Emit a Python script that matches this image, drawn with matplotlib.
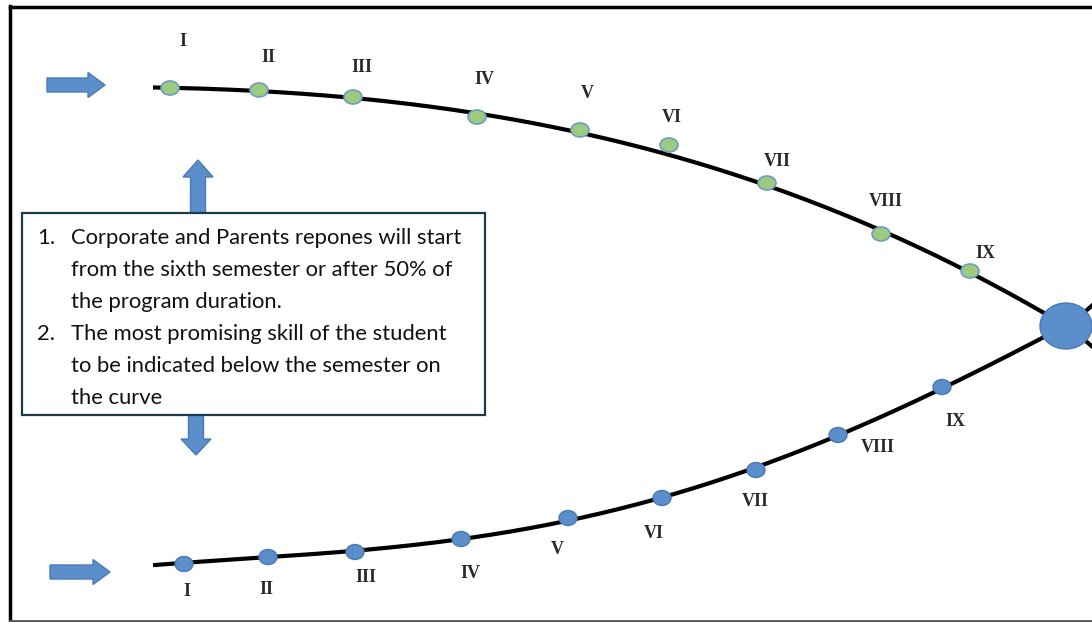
import numpy as np
import matplotlib
matplotlib.use("Agg")
import matplotlib.pyplot as plt
from matplotlib.patches import FancyArrow, Ellipse, Rectangle

# 学期标签
semesters = ["I", "II", "III", "IV", "V", "VI", "VII", "VIII", "IX"]

# 上方曲线 (绿色点) 的位置, 像素坐标
upper_x = [170, 259, 353, 477, 580, 669, 767, 881, 970]
upper_y = [88, 90, 97, 117, 130, 145, 183, 234, 271]
upper_lx = [183, 268, 362, 484, 587, 672, 777, 886, 985]
upper_ly = [42, 58, 68, 80, 94, 118, 161, 202, 254]

# 下方曲线 (蓝色点)
lower_x = [184, 268, 355, 461, 568, 662, 756, 838, 942]
lower_y = [564, 557, 552, 539, 518, 498, 470, 435, 387]
lower_lx = [187, 266, 366, 470, 557, 654, 755, 878, 955]
lower_ly = [591, 590, 578, 574, 550, 534, 501, 448, 421]

# 曲线的控制点
upper_curve_x = [153, 259, 353, 477, 580, 767, 881, 970, 1066]
upper_curve_y = [88, 90, 97, 117, 131, 183, 234, 271, 326]
lower_curve_x = [153, 268, 355, 461, 568, 662, 756, 838, 942, 1066]
lower_curve_y = [565, 557, 552, 539, 518, 498, 470, 435, 387, 326]

notes = [
    ("1.", ["Corporate and Parents repones will start",
            "from the sixth semester or after 50% of",
            "the program duration."]),
    ("2.", ["The most promising skill of the student",
            "to be indicated below the semester on",
            "the curve"]),
]

blue = "#5b8fcb"
blue_edge = "#4a7ab5"
green = "#9ccb7f"

fig = plt.figure(figsize=(10.92, 6.22), dpi=100)
ax = fig.add_axes([0, 0, 1, 1])
ax.set_xlim(0, 1092)
ax.set_ylim(622, 0)
ax.axis("off")

# 外框
ax.plot([10, 10], [6, 620], color="black", lw=2.5)
ax.plot([10, 1092], [6.5, 6.5], color="black", lw=2.5)
ax.plot([10, 1092], [620.5, 620.5], color="#555555", lw=2)


# 平滑曲线
def smooth(xs, ys, deg=3):
    c = np.polyfit(xs, ys, deg)
    xx = np.linspace(xs[0], xs[-1], 300)
    return xx, np.polyval(c, xx)


ux, uy = smooth(upper_curve_x, upper_curve_y, 4)
lx, ly = smooth(lower_curve_x, lower_curve_y, 4)
ax.plot(ux, uy, color="black", lw=3, zorder=2, solid_capstyle="butt")
ax.plot(lx, ly, color="black", lw=3, zorder=2, solid_capstyle="butt")
ax.plot([1080, 1095], [316, 303], color="black", lw=3, zorder=2)
ax.plot([1080, 1095], [336, 349], color="black", lw=3, zorder=2)

# 学期点
for x, y in zip(upper_x, upper_y):
    ax.add_patch(Ellipse((x, y), 18, 14, facecolor=green, edgecolor="#6d9cc0", lw=1.2, zorder=3))
for x, y in zip(lower_x, lower_y):
    ax.add_patch(Ellipse((x, y), 18, 15, facecolor=blue, edgecolor=blue_edge, lw=1.0, zorder=3))

# 大圆
ax.add_patch(Ellipse((1066, 326), 52, 46, facecolor=blue, edgecolor=blue_edge, lw=1, zorder=4))

# 标签
for s, x, y in zip(semesters, upper_lx, upper_ly):
    ax.text(x, y, s, ha="center", va="center", fontsize=13, family="Liberation Serif",
            color="#2a2a2a", fontweight="bold")
for s, x, y in zip(semesters, lower_lx, lower_ly):
    ax.text(x, y, s, ha="center", va="center", fontsize=13, family="Liberation Serif",
            color="#2a2a2a", fontweight="bold")

# 箭头
akw = dict(length_includes_head=True, facecolor=blue, edgecolor=blue_edge, lw=1, zorder=3)
ax.add_patch(FancyArrow(47, 85, 58, 0, width=14, head_width=25, head_length=17, **akw))
ax.add_patch(FancyArrow(50, 572, 60, 0, width=14, head_width=25, head_length=17, **akw))
ax.add_patch(FancyArrow(198, 220, 0, -60, width=15, head_width=30, head_length=17, **akw))
ax.add_patch(FancyArrow(196, 410, 0, 45, width=15, head_width=30, head_length=16, **akw))

# 说明文字框
ax.add_patch(Rectangle((22, 213), 463, 202, facecolor="white", edgecolor="#1d3b4c", lw=1.6, zorder=5))
line_y = 238
for num, lines in notes:
    ax.text(37, line_y, num, ha="left", va="center", fontsize=15.8, family="Lato", color="#111111", zorder=6)
    for ln in lines:
        ax.text(71, line_y, ln, ha="left", va="center", fontsize=15.8, family="Lato", color="#111111", zorder=6)
        line_y += 32

fig.savefig("out.png", dpi=100)
